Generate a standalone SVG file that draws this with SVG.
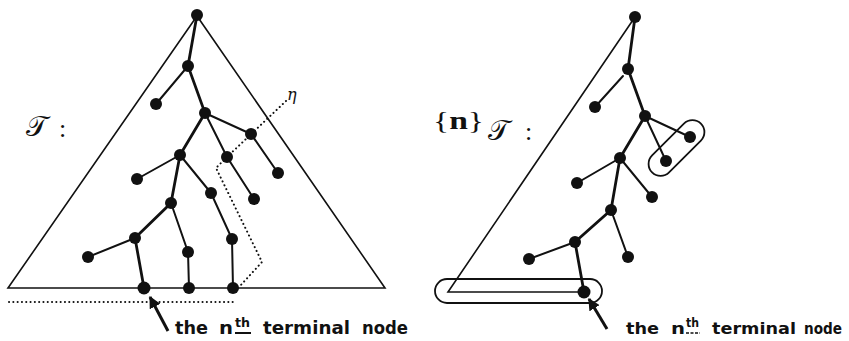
<svg xmlns="http://www.w3.org/2000/svg" width="849" height="341" viewBox="0 0 849 341">
<defs>
<style>
.bg{fill:#fff}
.tri{fill:none;stroke:#111;stroke-width:1.6;stroke-linejoin:miter}
.e{stroke:#111;stroke-width:2;fill:none;stroke-linecap:round}
.t{stroke:#111;stroke-width:2.8;fill:none;stroke-linecap:round}
.dot{fill:none;stroke:#111;stroke-width:2;stroke-dasharray:0.1 4.2;stroke-linecap:round}
.n{fill:#111}
.cap{fill:none;stroke:#111;stroke-width:1.8}
.lbl{font-family:"DejaVu Sans","Liberation Sans",sans-serif;font-weight:bold;font-size:18px;fill:#111}
.lbl2{font-family:"DejaVu Sans","Liberation Sans",sans-serif;font-weight:bold;font-size:16px;fill:#111}
.sup{font-family:"DejaVu Sans","Liberation Sans",sans-serif;font-weight:bold;font-size:12px;fill:#111}
.cal{font-family:"DejaVu Serif","DejaVu Sans","Liberation Serif",serif;font-size:28px;fill:#111}
.ser{font-family:"Liberation Serif","DejaVu Serif",serif;font-size:26px;fill:#111}
.arr{stroke:#111;stroke-width:3;fill:none}
</style>
<marker id="ah" viewBox="0 0 10 10" refX="9" refY="5" markerWidth="4" markerHeight="4" orient="auto">
<path d="M0,0 L10,5 L0,10 z" fill="#111"/>
</marker>
</defs>
<rect class="bg" x="0" y="0" width="849" height="341"/>

<!-- LEFT DIAGRAM -->
<g id="left-triangle">
<polygon class="tri" points="197,16 8,288 385,288"/>
</g>
<g id="left-label">
<text class="cal" x="26" y="136">𝒯</text>
<text class="ser" x="59" y="137">:</text>
</g>
<g id="left-edges">
<polyline class="t" points="197,15 188,66 205,113 180,155 171,203 135,238 144,288"/>
<line class="e" x1="188" y1="66" x2="156" y2="104"/>
<line class="e" x1="205" y1="113" x2="251" y2="134"/>
<line class="e" x1="251" y1="134" x2="278" y2="173"/>
<line class="e" x1="205" y1="113" x2="227" y2="157"/>
<line class="e" x1="227" y1="157" x2="254" y2="199"/>
<line class="e" x1="180" y1="155" x2="137" y2="179"/>
<line class="e" x1="180" y1="155" x2="211" y2="193"/>
<line class="e" x1="211" y1="193" x2="232" y2="239"/>
<line class="e" x1="232" y1="239" x2="233" y2="288"/>
<line class="e" x1="171" y1="203" x2="188" y2="252"/>
<line class="e" x1="188" y1="252" x2="189" y2="288"/>
<line class="e" x1="135" y1="238" x2="88" y2="257"/>
</g>
<g id="left-eta">
<polyline class="dot" points="286,101 227,157 216,168 262,262 240,286"/>
<line class="dot" x1="9" y1="302" x2="233" y2="302"/>
<text x="287" y="100" font-family="DejaVu Serif,Liberation Serif,serif" font-style="italic" font-size="16" fill="#111">η</text>
</g>
<g id="left-nodes">
<circle class="n" cx="197" cy="15" r="6"/>
<circle class="n" cx="188" cy="66" r="6"/>
<circle class="n" cx="156" cy="104" r="6"/>
<circle class="n" cx="205" cy="113" r="6"/>
<circle class="n" cx="251" cy="134" r="6"/>
<circle class="n" cx="278" cy="173" r="6"/>
<circle class="n" cx="227" cy="157" r="6"/>
<circle class="n" cx="254" cy="199" r="6"/>
<circle class="n" cx="180" cy="155" r="6"/>
<circle class="n" cx="137" cy="179" r="6"/>
<circle class="n" cx="211" cy="193" r="6"/>
<circle class="n" cx="232" cy="239" r="6"/>
<circle class="n" cx="233" cy="288" r="6"/>
<circle class="n" cx="171" cy="203" r="6"/>
<circle class="n" cx="188" cy="252" r="6"/>
<circle class="n" cx="189" cy="288" r="6"/>
<circle class="n" cx="135" cy="238" r="6"/>
<circle class="n" cx="88" cy="257" r="6"/>
<circle class="n" cx="144" cy="288" r="6.5"/>
</g>
<g id="left-caption">
<line class="arr" x1="168" y1="331" x2="150" y2="297" marker-end="url(#ah)"/>
<text class="lbl" x="175" y="334" textLength="33" lengthAdjust="spacingAndGlyphs">the</text>
<text class="lbl" x="219" y="334" textLength="14" lengthAdjust="spacingAndGlyphs">n</text>
<text class="sup" x="235" y="327" textLength="15" lengthAdjust="spacingAndGlyphs">th</text>
<line x1="235" y1="333" x2="251" y2="333" stroke="#111" stroke-width="2"/>
<text class="lbl" x="263" y="334" textLength="87" lengthAdjust="spacingAndGlyphs">terminal</text>
<text class="lbl" x="362" y="334" textLength="46" lengthAdjust="spacingAndGlyphs">node</text>
</g>

<!-- RIGHT DIAGRAM -->
<g id="right-triangle">
<polyline class="tri" points="635,17 448,292 584,292"/>
</g>
<g id="right-label">
<text class="ser" x="433" y="129" textLength="51" lengthAdjust="spacingAndGlyphs">{<tspan font-weight="bold">n</tspan>}</text>
<text class="cal" x="488" y="140">𝒯</text>
<text class="ser" x="525" y="140">:</text>
</g>
<g id="right-edges">
<polyline class="t" points="635,17 628,69 645,116 620,158 611,210 575,242 584,292"/>
<line class="e" x1="623" y1="76" x2="595" y2="107"/>
<line class="e" x1="645" y1="116" x2="690" y2="137"/>
<line class="e" x1="645" y1="116" x2="666" y2="161"/>
<line class="e" x1="620" y1="158" x2="577" y2="183"/>
<line class="e" x1="620" y1="158" x2="652" y2="197"/>
<line class="e" x1="611" y1="210" x2="628" y2="257"/>
<line class="e" x1="575" y1="242" x2="529" y2="259"/>
</g>
<g id="right-capsules">
<rect class="cap" x="642" y="136" width="69" height="24" rx="12" transform="rotate(-45 676.5 148)"/>
<rect class="cap" x="435" y="279" width="167" height="24" rx="12"/>
</g>
<g id="right-nodes">
<circle class="n" cx="635" cy="17" r="6"/>
<circle class="n" cx="628" cy="69" r="6"/>
<circle class="n" cx="595" cy="107" r="6"/>
<circle class="n" cx="645" cy="116" r="6"/>
<circle class="n" cx="690" cy="137" r="6"/>
<circle class="n" cx="666" cy="161" r="6"/>
<circle class="n" cx="620" cy="158" r="6"/>
<circle class="n" cx="577" cy="183" r="6"/>
<circle class="n" cx="652" cy="197" r="6"/>
<circle class="n" cx="611" cy="210" r="6"/>
<circle class="n" cx="628" cy="257" r="6"/>
<circle class="n" cx="575" cy="242" r="6"/>
<circle class="n" cx="529" cy="259" r="6"/>
<circle class="n" cx="584" cy="292" r="6.5"/>
</g>
<g id="right-caption">
<line class="arr" x1="607" y1="329" x2="589" y2="299" marker-end="url(#ah)"/>
<text class="lbl2" x="626" y="334" textLength="33" lengthAdjust="spacingAndGlyphs">the</text>
<text class="lbl2" x="671" y="334" textLength="14" lengthAdjust="spacingAndGlyphs">n</text>
<text class="sup" x="686" y="327" textLength="13" lengthAdjust="spacingAndGlyphs">th</text>
<line x1="686" y1="333" x2="700" y2="333" stroke="#111" stroke-width="1.6" stroke-dasharray="3 1.5"/>
<text class="lbl2" x="712" y="334" textLength="84" lengthAdjust="spacingAndGlyphs">terminal</text>
<text class="lbl2" x="804" y="334" font-size="15" textLength="38" lengthAdjust="spacingAndGlyphs">node</text>
</g>
</svg>
